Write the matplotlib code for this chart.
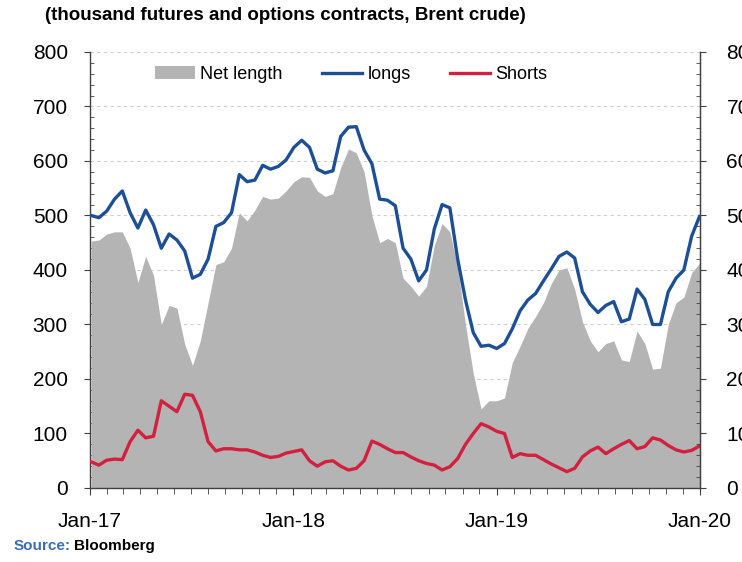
import pandas as pd
import matplotlib.pyplot as plt
import matplotlib.dates as mdates
from matplotlib.ticker import MultipleLocator


# ----- DATA (roughly every 2 weeks) -----
START = "2017-01-03"
N_POINTS = 79

net_length = [453, 455, 466, 470, 470, 440, 377, 425, 390, 300,
              335, 330, 264, 225, 270, 340, 410, 415, 440, 505,
              490, 510, 535, 530, 532, 545, 562, 571, 570, 545,
              535, 540, 588, 622, 615, 580, 500, 450, 458, 450,
              385, 370, 352, 370, 445, 485, 470, 405, 300, 210,
              145, 160, 160, 165, 230, 260, 293, 315, 340, 375,
              400, 404, 365, 305, 270, 250, 265, 270, 235, 232,
              288, 265, 218, 220, 300, 340, 350, 395, 412]

longs = [500, 496, 508, 530, 545, 505, 477, 510, 483, 440,
         466, 455, 435, 385, 392, 420, 480, 487, 505, 575,
         562, 565, 592, 585, 590, 602, 625, 638, 625, 585,
         578, 582, 645, 662, 663, 620, 595, 530, 528, 518,
         440, 420, 380, 400, 475, 520, 514, 420, 345, 285,
         260, 262, 256, 265, 292, 325, 345, 357, 380, 402,
         425, 433, 422, 360, 337, 322, 335, 342, 305, 310,
         365, 346, 300, 300, 360, 385, 400, 462, 498]

shorts = [48, 42, 51, 53, 52, 85, 106, 92, 95, 160,
          150, 140, 172, 170, 140, 85, 68, 72, 72, 70,
          70, 66, 60, 56, 58, 64, 67, 70, 50, 40,
          48, 50, 40, 33, 36, 50, 86, 80, 72, 65,
          65, 57, 50, 45, 42, 33, 39, 54, 80, 100,
          118, 112, 104, 100, 56, 63, 60, 60, 52, 44,
          37, 30, 36, 57, 68, 75, 63, 72, 80, 87,
          72, 76, 92, 88, 78, 70, 66, 69, 77]

y_ticks = [0, 100, 200, 300, 400, 500, 600, 700, 800]

TITLE = "(thousand futures and options contracts, Brent crude)"

GRAY = "#b4b4b4"
BLUE = "#1c4f96"
RED = "#d3203e"

FONT = ["Liberation Sans Narrow", "Liberation Sans", "DejaVu Sans"]


def main():
    dates = pd.date_range(START, periods=N_POINTS, freq="14D")

    fig = plt.figure(figsize=(7.42, 5.62), dpi=100)
    ax = fig.add_axes([0.1213, 0.1317, 0.8221, 0.7758])

    ax.fill_between(dates, net_length, 0, color=GRAY, linewidth=0,
                    label="Net length", zorder=2)
    ax.plot(dates, longs, color=BLUE, linewidth=2.4, label="longs", zorder=3)
    ax.plot(dates, shorts, color=RED, linewidth=2.4, label="Shorts", zorder=3)

    ax.set_ylim(0, 800)
    ax.set_xlim(pd.Timestamp("2017-01-01"), pd.Timestamp("2020-01-01"))
    ax.set_yticks(y_ticks)
    ax.yaxis.set_minor_locator(MultipleLocator(20))

    ax.xaxis.set_major_locator(mdates.YearLocator())
    ax.xaxis.set_major_formatter(mdates.DateFormatter("%b-%y"))
    ax.xaxis.set_minor_locator(mdates.MonthLocator())

    # dashed grid, behind the grey area
    ax.grid(axis="y", linestyle=(0, (3, 3)), color="#cfcfcf", linewidth=0.8, zorder=0)
    ax.set_axisbelow(True)

    ax.spines["top"].set_visible(False)
    for side in ["left", "bottom", "right"]:
        ax.spines[side].set_color("#404040")
        ax.spines[side].set_linewidth(1.0)

    ax.tick_params(axis="y", which="major", direction="out", length=4,
                   color="#404040", labelsize=15, pad=12)
    ax.tick_params(axis="y", which="minor", direction="in", length=3, color="#404040")
    ax.tick_params(axis="x", which="major", direction="out", length=5,
                   color="#404040", labelsize=15, pad=12)
    ax.tick_params(axis="x", which="minor", direction="out", length=4, color="#404040")

    for lab in ax.get_yticklabels() + ax.get_xticklabels():
        lab.set_family(FONT)

    # right axis (same scale, labels get cut by the figure edge like the original)
    ax2 = ax.twinx()
    ax2.set_ylim(0, 800)
    ax2.set_yticks(y_ticks)
    ax2.yaxis.set_minor_locator(MultipleLocator(20))
    ax2.tick_params(axis="y", which="major", direction="out", length=4,
                    color="#404040", labelsize=15, pad=15)
    ax2.tick_params(axis="y", which="minor", direction="in", length=3, color="#404040")
    for side in ["top", "left", "bottom"]:
        ax2.spines[side].set_visible(False)
    ax2.spines["right"].set_color("#404040")
    for lab in ax2.get_yticklabels():
        lab.set_family(FONT)

    ax.legend(loc="upper left", bbox_to_anchor=(0.08, 1.005), ncol=3,
              frameon=False, handlelength=2.2, handletextpad=0.3,
              columnspacing=2.2, prop={"family": FONT, "size": 13})

    fig.text(0.06, 0.972, TITLE, fontsize=13.5, fontweight="bold",
             family=FONT, va="center", ha="left")

    fig.text(0.018, 0.028, "Source:", fontsize=11, fontweight="bold",
             color="#3a6db5", family=FONT, va="center", ha="left")
    fig.text(0.1, 0.028, "Bloomberg", fontsize=11, fontweight="bold",
             color="black", family=FONT, va="center", ha="left")

    fig.savefig("out.png", dpi=100)


if __name__ == "__main__":
    main()
